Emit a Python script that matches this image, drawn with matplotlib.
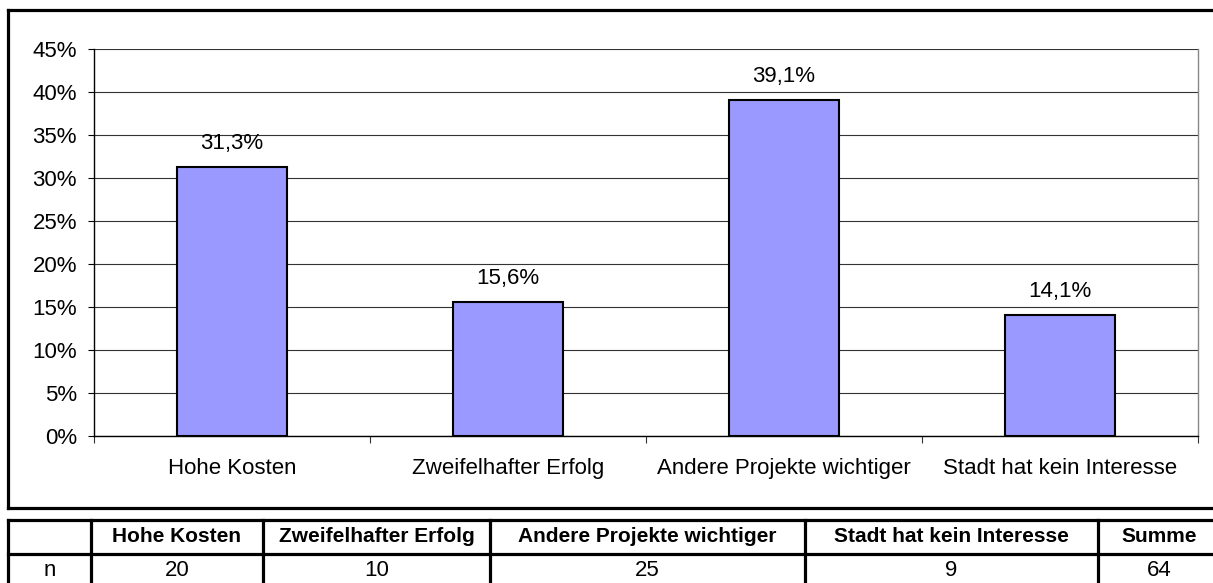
import matplotlib
matplotlib.use("Agg")
import matplotlib.pyplot as plt
from matplotlib.lines import Line2D

# data
categories = ["Hohe Kosten", "Zweifelhafter Erfolg", "Andere Projekte wichtiger", "Stadt hat kein Interesse"]
percent = [31.3, 15.6, 39.1, 14.1]
counts = [20, 10, 25, 9]
total_label = "Summe"
total = 64
row_label = "n"

W, H = 1213, 583
plt.rcParams['font.family'] = ['Liberation Sans', 'DejaVu Sans']
FS = 16

fig = plt.figure(figsize=(W / 100, H / 100), dpi=100)

def fx(x):
    return x / W

def fy(y):
    return 1 - y / H

# plot area (pixel box 94..1198, 49..436)
ax = fig.add_axes([fx(94), fy(436), fx(1198) - fx(94), fy(49) - fy(436)])

xs = [i + 0.5 for i in range(len(categories))]
ax.bar(xs, percent, width=0.4, color="#9999FF", edgecolor="black", linewidth=1.5, zorder=3)

for x, v in zip(xs, percent):
    ax.annotate(f"{v:.1f}".replace(".", ",") + "%", (x, v), xytext=(0, 17),
                textcoords="offset points", ha="center", va="center", fontsize=FS)

ax.set_xlim(0, len(categories))
ax.set_ylim(0, 45)
ax.set_yticks(range(0, 50, 5))
ax.set_yticklabels([f"{t}%" for t in range(0, 50, 5)])
ax.yaxis.grid(True, color="#333333", linewidth=0.8, zorder=0)
ax.set_axisbelow(True)

ax.set_xticks(range(len(categories) + 1))
ax.set_xticklabels([])
ax.set_xticks(xs, minor=True)
ax.set_xticklabels(categories, minor=True)
ax.tick_params(axis="x", which="major", length=5, width=0.8, color="#333333")
ax.tick_params(axis="x", which="minor", length=0, pad=16, labelsize=FS)
ax.tick_params(axis="y", length=4.3, width=0.8, pad=8, labelsize=FS)

ax.spines["top"].set_visible(False)
ax.spines["right"].set_color("#888888")
ax.spines["right"].set_linewidth(1.0)
ax.spines["left"].set_linewidth(1.0)
ax.spines["bottom"].set_linewidth(1.0)

# chart border
lw_b = 2.3
for (x0, y0, x1, y1) in [(8, 10, 1220, 10), (8, 10, 8, 508), (8, 508, 1220, 508)]:
    fig.add_artist(Line2D([fx(x0), fx(x1)], [fy(y0), fy(y1)], color="black", linewidth=lw_b,
                          solid_capstyle="projecting"))

# table below the chart
col_edges = [8, 91, 263, 490, 805, 1098, 1225]
row_top, row_mid, row_bot = 520, 554, 590
for y in (row_top, row_mid):
    fig.add_artist(Line2D([fx(8), fx(1225)], [fy(y), fy(y)], color="black", linewidth=lw_b,
                          solid_capstyle="projecting"))
for x in col_edges[:-1]:
    fig.add_artist(Line2D([fx(x), fx(x)], [fy(row_top), fy(row_bot)], color="black", linewidth=lw_b,
                          solid_capstyle="projecting"))

headers = [""] + categories + [total_label]
values = [row_label] + [str(c) for c in counts] + [str(total)]
for i in range(len(headers)):
    cx = (col_edges[i] + col_edges[i + 1]) / 2
    if i == len(headers) - 1:
        cx = 1159
    fig.text(fx(cx), fy((row_top + row_mid) / 2), headers[i], ha="center", va="center",
             fontsize=15, fontweight="bold")
    fig.text(fx(cx), fy(570), values[i], ha="center", va="center", fontsize=FS)

fig.savefig("out.png", dpi=100)
